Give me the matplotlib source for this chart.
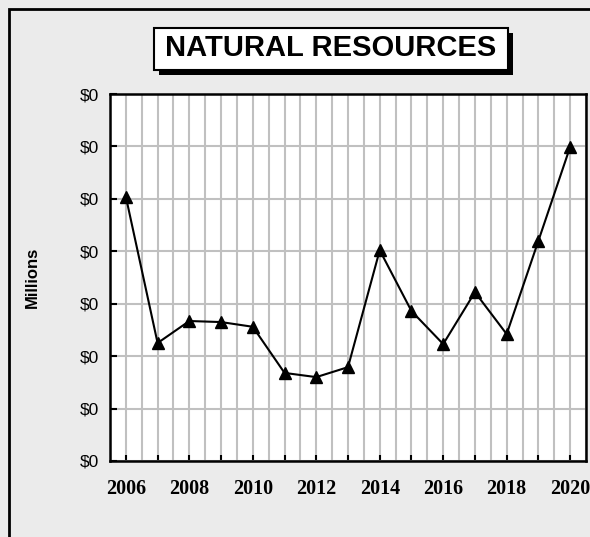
import matplotlib
matplotlib.use("Agg")
import matplotlib.pyplot as plt
from matplotlib.patches import Rectangle
from matplotlib.ticker import MultipleLocator, FixedLocator

years = [2006, 2007, 2008, 2009, 2010, 2011, 2012, 2013, 2014, 2015, 2016, 2017, 2018, 2019, 2020]
values = [5.04, 2.25, 2.67, 2.65, 2.56, 1.68, 1.60, 1.79, 4.02, 2.86, 2.23, 3.22, 2.42, 4.20, 5.99]
title = "NATURAL RESOURCES"
ylabel = "Millions"
ytick_vals = [0, 1, 2, 3, 4, 5, 6, 7]
ytick_labels = ["$0"] * len(ytick_vals)
xtick_labels = [str(y) if (y - 2006) % 2 == 0 else "" for y in years]

W, H = 590, 537
fig = plt.figure(figsize=(W / 100, H / 100), dpi=100)
bg = "#ebebeb"
fig.patch.set_facecolor(bg)

def fx(px):
    return px / W

def fy(py):
    return 1 - py / H

# outer border
fig.patches.append(Rectangle((fx(9), fy(600)), fx(700), fy(9) - fy(600),
                             transform=fig.transFigure, fill=False,
                             edgecolor="black", lw=2, zorder=0))

ax = fig.add_axes([fx(110), fy(461), fx(586) - fx(110), fy(94) - fy(461)])
ax.set_facecolor("white")
ax.plot(years, values, color="black", lw=1.5, marker="^", markersize=9,
        markerfacecolor="black", markeredgecolor="black", zorder=3, clip_on=False)

ax.set_xlim(2005.5, 2020.5)
ax.set_ylim(0, 7)
ax.xaxis.set_major_locator(FixedLocator(years))
ax.set_xticklabels(xtick_labels)
ax.xaxis.set_minor_locator(MultipleLocator(0.5))
ax.set_yticks(ytick_vals)
ax.set_yticklabels(ytick_labels)

ax.grid(True, which="both", axis="x", color="#c0c0c0", lw=1.5, zorder=0)
ax.grid(True, which="major", axis="y", color="#c0c0c0", lw=1.5, zorder=0)
ax.set_axisbelow(True)
ax.tick_params(axis="x", which="major", direction="in", length=4, width=1.5,
               pad=13, labelsize=14.5)
ax.tick_params(axis="x", which="minor", length=0)
ax.tick_params(axis="y", which="major", direction="in", length=5, width=1.5,
               pad=8, labelsize=12.5)
for lab in ax.get_xticklabels():
    lab.set_fontfamily("Liberation Serif")
    lab.set_fontweight("bold")
for lab in ax.get_yticklabels():
    lab.set_fontfamily("Liberation Sans")
for s in ax.spines.values():
    s.set_linewidth(1.8)
    s.set_color("black")

fig.text(fx(32), fy(277), ylabel, rotation=90, ha="center", va="center",
         fontsize=12, fontweight="bold", fontfamily="Liberation Sans")

# title box with shadow
bx0, bx1, by0, by1 = 154, 508, 28, 70
off = 5
fig.patches.append(Rectangle((fx(bx0 + off), fy(by1 + off)), fx(bx1) - fx(bx0),
                             fy(by0) - fy(by1), transform=fig.transFigure,
                             facecolor="black", edgecolor="black", lw=0, zorder=1))
fig.patches.append(Rectangle((fx(bx0), fy(by1)), fx(bx1) - fx(bx0),
                             fy(by0) - fy(by1), transform=fig.transFigure,
                             facecolor="white", edgecolor="black", lw=1.5, zorder=2))
fig.text(fx((bx0 + bx1) / 2), fy((by0 + by1) / 2) + 0.001, title, ha="center", va="center",
         fontsize=21, fontweight="bold", fontfamily="Liberation Sans", zorder=3)

fig.savefig("out.png", dpi=100, facecolor=bg)
